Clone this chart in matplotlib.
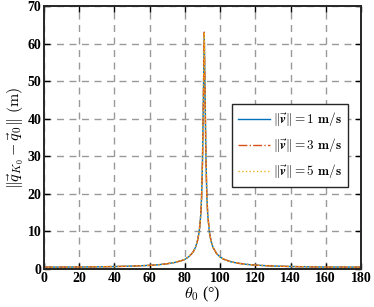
import matplotlib
matplotlib.use("Agg")
import matplotlib.pyplot as plt

plt.rcParams['font.family'] = ['Liberation Serif', 'DejaVu Serif']
plt.rcParams['mathtext.fontset'] = 'cm'

# %% data
theta = [0, 10, 20, 30, 40, 50, 60, 65, 70, 74, 78, 80, 82, 84, 85, 86, 87, 88,
         88.5, 89, 89.5, 90, 90.5, 91, 91.5, 92, 92.5, 93, 94, 95, 96, 98, 100,
         102, 106, 110, 115, 120, 130, 140, 150, 160, 170, 180]
dist_v1 = [0.50, 0.51, 0.53, 0.58, 0.65, 0.77, 0.97, 1.13, 1.40, 1.71, 2.22, 2.56,
           3.20, 4.10, 4.78, 5.74, 7.17, 9.56, 11.5, 14.3, 19.1, 28.6, 45.0, 63.0,
           45.0, 28.6, 19.1, 14.3, 9.56, 7.17, 5.74, 4.10, 3.20, 2.62, 1.93, 1.55,
           1.23, 1.03, 0.79, 0.66, 0.58, 0.53, 0.51, 0.50]
dist_v3 = list(dist_v1)
dist_v5 = list(dist_v1)

labels = [r'$\|\vec{\boldsymbol{v}}\| = \mathbf{1}\ \mathbf{m/s}$',
          r'$\|\vec{\boldsymbol{v}}\| = \mathbf{3}\ \mathbf{m/s}$',
          r'$\|\vec{\boldsymbol{v}}\| = \mathbf{5}\ \mathbf{m/s}$']
xticks = list(range(0, 181, 20))
yticks = list(range(0, 71, 10))

# %% plot
fig = plt.figure(figsize=(3.74, 3.07), dpi=100)
ax = fig.add_axes([0.1176, 0.1238, 0.8476, 0.8567])

ax.plot(theta, dist_v1, color='#0072BD', lw=1.0, ls='-', label=labels[0])
ax.plot(theta, dist_v3, color='#D95319', lw=1.0, ls='-.', label=labels[1])
ax.plot(theta, dist_v5, color='#EDB120', lw=1.0, ls=':', label=labels[2])

ax.set_xlim(0, 180)
ax.set_ylim(0, 70)
ax.set_xticks(xticks)
ax.set_yticks(yticks)
ax.grid(True, ls=(0, (5, 4)), color='#999999', lw=1.0)
ax.tick_params(direction='in', top=True, right=True, length=4, width=1,
               labelsize=10, pad=2)
for lab in ax.get_xticklabels() + ax.get_yticklabels():
    lab.set_fontweight('bold')
for s in ax.spines.values():
    s.set_linewidth(1.4)
    s.set_color('#262626')

ax.set_xlabel(r'$\theta_0$ (°)', fontsize=11.5, labelpad=0)
ax.set_ylabel(r'$\|\vec{q}_{K_0} - \vec{q}_0\|\ (\mathrm{m})$', fontsize=11.5, labelpad=1)

leg = ax.legend(loc='center right', bbox_to_anchor=(0.98, 0.47), fontsize=9.5,
                fancybox=False, framealpha=1, edgecolor='#262626',
                handlelength=2.4, borderpad=0.5, labelspacing=0.6, handletextpad=0.2)
leg.get_frame().set_linewidth(1.0)

fig.savefig('out.png', dpi=100)
